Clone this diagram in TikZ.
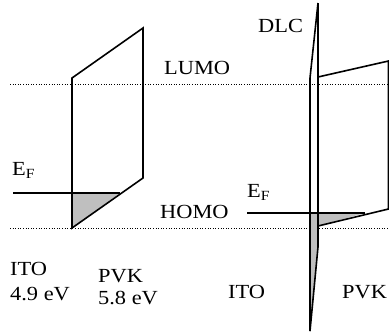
\documentclass[tikz,border=0pt]{standalone}
\usepackage{fontspec}
\setmainfont{Liberation Serif}[FakeStretch=1.12]
\tikzset{
  level/.style={line width=0.9pt,dash pattern=on 1pt off 1.6pt},
  band/.style={line width=1.6pt},
  lbl/.style={anchor=base west,inner sep=0pt}
}
\begin{document}
\begin{tikzpicture}[x=1pt,y=-1pt,font=\fontsize{20}{24}\selectfont]
  \useasboundingbox (0,0) rectangle (389,333);
  % LUMO and HOMO levels
  \draw[level] (10,84) -- (389,84);
  \draw[level] (10,228) -- (389,228);
  % ITO / PVK before contact
  \fill[gray!50] (72,193) -- (120,193) -- (72,228) -- cycle;
  \draw[band] (72,228) -- (72,78) -- (143,28) -- (143,178) -- cycle;
  \draw[band] (13,193) -- (120,193);
  % ITO / DLC / PVK
  \fill[gray!50] (310,213) -- (365,213) -- (318,226) -- (318,247) -- (310,331) -- cycle;
  \draw[band] (318,3) -- (318,247) -- (310,331);
  \draw[band] (318,3) -- (310,78) -- (310,331);
  \draw[band] (318,77) -- (388.5,61) -- (388.5,209) -- (318,226);
  \draw[band] (247,213) -- (365,213);
  % labels
  \node[lbl] (lumo) at (164,74)  {LUMO};
  \node[lbl] (homo) at (160,218) {HOMO};
  \node[lbl] (efa)  at (12,175)  {E\textsubscript{F}};
  \node[lbl] (efb)  at (247,197) {E\textsubscript{F}};
  \node[lbl] (itoa) at (10,275)  {ITO};
  \node[lbl] (wita) at (10,300)  {4.9 eV};
  \node[lbl] (pvka) at (98,282)  {PVK};
  \node[lbl] (wpvk) at (98,304)  {5.8 eV};
  \node[lbl] (itob) at (228,298) {ITO};
  \node[lbl] (pvkb) at (342,298) {PVK};
  \node[lbl] (dlc)  at (258,32)  {DLC};
\end{tikzpicture}
\end{document}
